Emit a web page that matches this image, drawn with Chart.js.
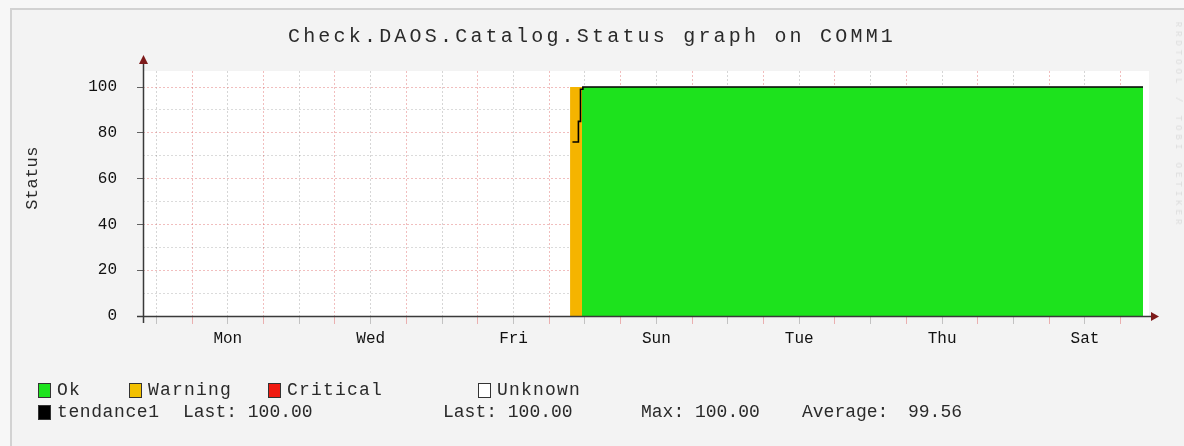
<!DOCTYPE html>
<html><head><meta charset="utf-8">
<script src="https://cdn.jsdelivr.net/npm/chart.js@4/dist/chart.umd.min.js"></script>
<style>
html,body{margin:0;padding:0;background:#f7f7f7;}
#wrap{position:relative;width:1184px;height:446px;overflow:hidden;}
#frame{position:absolute;left:10px;top:8px;right:0;bottom:0;background:#f3f3f3;border-left:2px solid #d2d2d2;border-top:2px solid #d2d2d2;}
canvas{position:absolute;left:0;top:0;}
.t{position:absolute;font-family:'Liberation Mono','DejaVu Sans Mono',monospace;color:#2a2a2a;white-space:pre;line-height:20px;}
.lg{font-size:18px;}
.r1{letter-spacing:1.2px;}
.box{position:absolute;width:11px;height:13px;border:1px solid #333;}
</style></head>
<body>
<div id="wrap">
<div id="frame"></div>
<canvas id="c" width="1184" height="446"></canvas>
<div class="t" id="title" style="left:0;width:1184px;text-align:center;top:27px;font-size:20px;letter-spacing:3.2px;">Check.DAOS.Catalog.Status graph on COMM1</div>
<div class="t" style="left:33px;top:178px;font-size:17px;letter-spacing:0.4px;transform:translate(-50%,-50%) rotate(-90deg);">Status</div>
<div class="t" style="left:1178px;top:125px;font-size:9px;letter-spacing:4px;color:#dcdcdc;transform:translate(-50%,-50%) rotate(90deg);">RRDTOOL / TOBI OETIKER</div>

<div class="box" style="left:38px;top:383px;background:#1de21d"></div><div class="t lg r1" style="left:57px;top:380px">Ok</div>
<div class="box" style="left:129px;top:383px;background:#f2c000"></div><div class="t lg r1" style="left:148px;top:380px">Warning</div>
<div class="box" style="left:268px;top:383px;background:#f01a10"></div><div class="t lg r1" style="left:287px;top:380px">Critical</div>
<div class="box" style="left:478px;top:383px;background:#ffffff"></div><div class="t lg r1" style="left:497px;top:380px">Unknown</div>

<div class="box" style="left:38px;top:405px;background:#000"></div><div class="t lg" style="left:57px;top:402px;letter-spacing:0.6px">tendance1</div>
<div class="t lg" style="left:183px;top:402px">Last: 100.00</div>
<div class="t lg" style="left:443px;top:402px">Last: 100.00</div>
<div class="t lg" style="left:641px;top:402px">Max: 100.00</div>
<div class="t lg" style="left:802px;top:402px">Average:</div>
<div class="t lg" style="left:908px;top:402px">99.56</div>
</div>
<script>
// ---- data (x in hours from the start of the graph) ----
const dayLabels = ['Mon','Wed','Fri','Sun','Tue','Thu','Sat'];
const dayLabelHours = [28.5, 76.5, 124.5, 172.5, 220.5, 268.5, 316.5];
const yTickLabels = [0, 20, 40, 60, 80, 100];
const okHours = [147.5, 336];
const okValues = [100, 100];
const warningHours = [143.5, 147.5];
const warningValues = [100, 100];
const trendHours = [144.3, 146.3, 147.0, 147.8, 336];
const trendValues = [76, 85, 99, 100, 100];

const totalHours = 336;
const firstMidnight = 16.5;
const gridHours = [];
for (let h = firstMidnight - 12; h < totalHours; h += 12) gridHours.push(h);
const yGrid = [];
for (let v = 0; v <= 100; v += 5) yGrid.push(v);

const pts = (xs, ys) => xs.map((x, i) => ({x, y: ys[i]}));
const FONT = "'Liberation Mono','DejaVu Sans Mono',monospace";
const isMidnight = v => Math.abs((v - firstMidnight) % 24) < 0.01;

const decor = {
  id: 'decor',
  beforeDraw(chart) {
    const {ctx, chartArea: a} = chart;
    ctx.save();
    ctx.fillStyle = '#ffffff';
    ctx.fillRect(a.left, a.top, a.right - a.left + 6, a.bottom - a.top);
    ctx.restore();
  },
  afterDatasetsDraw(chart) {
    const {ctx, chartArea: a} = chart;
    ctx.save();
    ctx.strokeStyle = '#3a3a3a';
    ctx.lineWidth = 1.5;
    ctx.beginPath();
    ctx.moveTo(a.left - 6, a.bottom + 0.5); ctx.lineTo(a.right + 10, a.bottom + 0.5);
    ctx.moveTo(a.left + 0.5, a.bottom + 7); ctx.lineTo(a.left + 0.5, a.top - 8);
    ctx.stroke();
    ctx.fillStyle = '#7d1a1a';
    ctx.beginPath();
    ctx.moveTo(a.left + 0.5, a.top - 16); ctx.lineTo(a.left - 4, a.top - 7); ctx.lineTo(a.left + 5, a.top - 7); ctx.closePath();
    ctx.fill();
    ctx.beginPath();
    ctx.moveTo(a.right + 16, a.bottom + 0.5); ctx.lineTo(a.right + 8, a.bottom - 4); ctx.lineTo(a.right + 8, a.bottom + 5); ctx.closePath();
    ctx.fill();
    ctx.restore();
  }
};

new Chart(document.getElementById('c'), {
  type: 'line',
  data: {
    datasets: [
      { label: 'tendance1', data: pts(trendHours, trendValues), stepped: true, borderColor: '#000', borderWidth: 1.6, pointRadius: 0, fill: false, order: 0 },
      { label: 'Ok', data: pts(okHours, okValues), stepped: true, borderWidth: 0, borderColor: 'rgba(0,0,0,0)', backgroundColor: '#1de21d', pointRadius: 0, fill: 'origin', order: 1 },
      { label: 'Warning', data: pts(warningHours, warningValues), stepped: true, borderWidth: 0, borderColor: 'rgba(0,0,0,0)', backgroundColor: '#f5b400', pointRadius: 0, fill: 'origin', order: 2 }
    ]
  },
  options: {
    responsive: false,
    animation: false,
    devicePixelRatio: 1,
    layout: { padding: { left: 0, right: 41, top: 71, bottom: 0 } },
    plugins: { legend: { display: false }, tooltip: { enabled: false }, title: { display: false } },
    scales: {
      x: {
        type: 'linear', min: 0, max: totalHours,
        afterBuildTicks: s => { s.ticks = gridHours.map(v => ({value: v})); },
        afterFit: s => { s.height = 130; },
        border: { display: false, dash: [2, 2] },
        grid: {
          color: c => (isMidnight(c.tick.value) ? 'rgba(225,110,110,0.45)' : 'rgba(0,0,0,0.16)'),
          tickColor: c => (isMidnight(c.tick.value) ? 'rgba(225,110,110,0.5)' : 'rgba(0,0,0,0.2)'),
          tickLength: 8, lineWidth: 1
        },
        ticks: {
          autoSkip: false, maxRotation: 0, minRotation: 0, padding: 5,
          color: '#111', font: { family: FONT, size: 16 },
          callback: v => { const i = dayLabelHours.indexOf(v); return i >= 0 ? dayLabels[i] : ''; }
        }
      },
      y: {
        type: 'linear', min: 0, max: 107,
        afterBuildTicks: s => { s.ticks = yGrid.map(v => ({value: v})); },
        afterFit: s => { s.width = 143; },
        border: { display: false, dash: [2, 2] },
        grid: {
          color: c => (c.tick.value % 20 === 0 ? 'rgba(225,110,110,0.45)' : 'rgba(0,0,0,0.14)'),
          tickColor: c => (c.tick.value % 20 === 0 ? 'rgba(60,60,60,0.8)' : 'rgba(0,0,0,0)'),
          tickLength: 6, lineWidth: 1
        },
        ticks: {
          padding: 20, color: '#111', font: { family: FONT, size: 16 },
          callback: v => (yTickLabels.includes(v) ? String(v) : '')
        }
      }
    }
  },
  plugins: [decor]
});
</script>
</body></html>
